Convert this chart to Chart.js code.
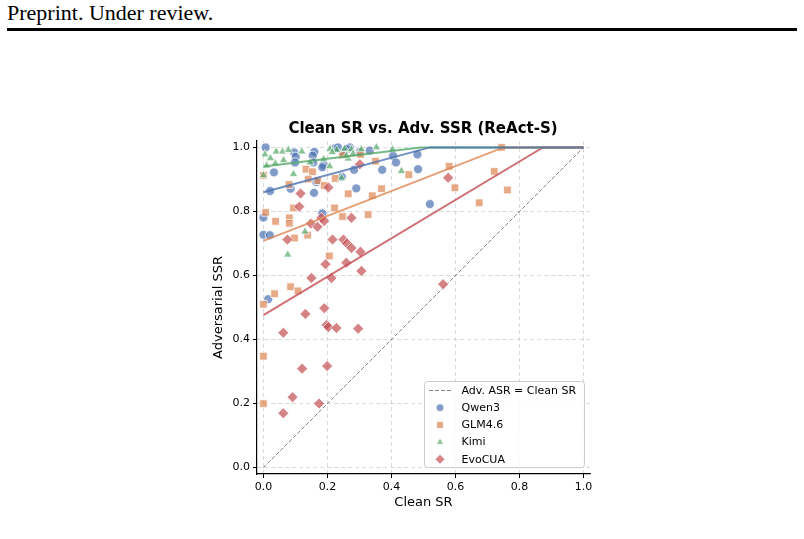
<!DOCTYPE html>
<html>
<head>
<meta charset="utf-8">
<script src="https://cdn.jsdelivr.net/npm/chart.js@4.4.0/dist/chart.umd.min.js"></script>
<style>
  html, body { margin: 0; padding: 0; background: #fff; }
  body { width: 804px; height: 539px; position: relative; overflow: hidden; }
  #header { position: absolute; left: 7px; top: 0px; font-family: "Liberation Serif", serif; font-size: 22px; line-height: 26px; color: #000; }
  #rule { position: absolute; left: 7px; top: 28px; width: 790px; height: 3px; background: #000; }
  #title { position: absolute; left: 223px; width: 400px; top: 119px; text-align: center; font-family: "DejaVu Sans", sans-serif; font-weight: bold; font-size: 15px; line-height: 18px; color: #000; }
  #myChart { position: absolute; left: 0; top: 0; }
</style>
</head>
<body>
<div id="header">Preprint. Under review.</div>
<div id="rule"></div>
<canvas id="myChart" width="804" height="539"></canvas>
<div id="title">Clean SR vs. Adv. SSR (ReAct-S)</div>
<script>
// 축 눈금
const xTickValues = [0, 0.2, 0.4, 0.6, 0.8, 1.0];
const xTickLabels = ["0.0", "0.2", "0.4", "0.6", "0.8", "1.0"];
const yTickValues = [0, 0.2, 0.4, 0.6, 0.8, 1.0];
const yTickLabels = ["0.0", "0.2", "0.4", "0.6", "0.8", "1.0"];

// 시리즈 이름
const seriesNames = ["Qwen3", "GLM4.6", "Kimi", "EvoCUA"];
const diagLabel = "Adv. ASR = Clean SR";

// Qwen3 (clean SR, adv SSR)
const qwenX = [0.007, 0.096, 0.101, 0.159, 0.154, 0.033, 0.099, 0.156, 0.188, 0.224, 0.245, 0.085, 0.165, 0.158, 0.021, 0.184,
  0.29, 0.283, 0.371, 0.332, 0.405, 0.414, 0.481, 0.483, 0.52, 0.27, 0.26, 0.233, 0.0, 0.0, 0.02, 0.184, 0.015, 0.3, 0.25];
const qwenY = [1.0, 0.984, 0.971, 0.986, 0.974, 0.922, 0.953, 0.953, 0.945, 0.997, 0.908, 0.871, 0.892, 0.858, 0.864, 0.938,
  0.872, 0.93, 0.93, 0.99, 0.974, 0.953, 0.978, 0.932, 0.823, 1.0, 0.995, 1.0, 0.781, 0.727, 0.726, 0.794, 0.526, 0.985, 0.985];

// GLM4.6
const glmX = [0.744, 0.58, 0.598, 0.721, 0.762, 0.674, 0.454, 0.133, 0.153, 0.14, 0.08, 0.17, 0.224, 0.0, 0.19, 0.265,
  0.34, 0.369, 0.35, 0.247, 0.303, 0.007, 0.038, 0.081, 0.081, 0.097, 0.138, 0.094, 0.222, 0.206, 0.247, 0.327,
  0.085, 0.108, 0.035, 0.0, 0.0, 0.0];
const glmY = [1.0, 0.941, 0.874, 0.925, 0.867, 0.827, 0.915, 0.932, 0.924, 0.901, 0.884, 0.896, 0.903, 0.913, 0.881, 0.855,
  0.849, 0.871, 0.957, 0.976, 0.978, 0.797, 0.769, 0.78, 0.763, 0.717, 0.726, 0.811, 0.811, 0.661, 0.784, 0.79,
  0.565, 0.552, 0.543, 0.51, 0.348, 0.2];

// Kimi
const kimiX = [0.005, 0.04, 0.06, 0.078, 0.12, 0.208, 0.229, 0.254, 0.275, 0.306, 0.353, 0.403, 0.037, 0.063, 0.022, 0.146,
  0.188, 0.207, 0.265, 0.259, 0.01, 0.094, 0.0, 0.244, 0.431, 0.13, 0.076, 0.28, 0.215];
const kimiY = [0.978, 0.987, 0.987, 0.992, 0.987, 0.995, 0.992, 0.996, 0.994, 0.994, 1.0, 0.994, 0.95, 0.96, 0.966, 0.953,
  0.963, 0.941, 0.965, 0.974, 0.943, 0.917, 0.913, 0.905, 0.926, 0.737, 0.665, 0.98, 0.985];

// EvoCUA
const evoX = [0.116, 0.203, 0.301, 0.112, 0.181, 0.19, 0.148, 0.169, 0.075, 0.216, 0.275, 0.25, 0.261, 0.275, 0.303, 0.259,
  0.306, 0.194, 0.15, 0.2125, 0.131, 0.19, 0.197, 0.203, 0.228, 0.296, 0.062, 0.121, 0.199, 0.091, 0.174, 0.062, 0.561, 0.577];
const evoY = [0.856, 0.875, 0.947, 0.815, 0.78, 0.77, 0.762, 0.752, 0.712, 0.712, 0.78, 0.712, 0.7, 0.686, 0.674, 0.64,
  0.614, 0.635, 0.592, 0.592, 0.48, 0.498, 0.445, 0.439, 0.436, 0.434, 0.421, 0.309, 0.317, 0.22, 0.2, 0.17, 0.573, 0.905];

// 추세선 (1.0에서 잘림)
const qwenFitX = [0, 0.52, 1];
const qwenFitY = [0.86, 1, 1];
const glmFitX = [0, 0.75, 1];
const glmFitY = [0.708, 1, 1];
const kimiFitX = [0, 0.49, 1];
const kimiFitY = [0.94, 1, 1];
const evoFitX = [0, 0.873, 1];
const evoFitY = [0.476, 1, 1];

// 대각선
const diagX = [0, 1];
const diagY = [0, 1];

const pts = (xs, ys) => xs.map((x, i) => ({ x: x, y: ys[i] }));

const colors = {
  blue: [76, 114, 176],
  orange: [221, 132, 82],
  green: [85, 168, 104],
  red: [196, 78, 82],
};
const rgba = (c, a) => `rgba(${c[0]}, ${c[1]}, ${c[2]}, ${a})`;

function scatterSet(label, xs, ys, c, style, r, order) {
  return {
    label: label,
    data: pts(xs, ys),
    pointStyle: style,
    pointRadius: r,
    pointBackgroundColor: rgba(c, 0.7),
    pointBorderColor: "rgba(255,255,255,0.9)",
    pointBorderWidth: 0.8,
    showLine: false,
    order: order,
    clip: false,
  };
}

function fitSet(xs, ys, c) {
  return {
    label: "",
    data: pts(xs, ys),
    showLine: true,
    borderColor: rgba(c, 0.8),
    borderWidth: 2,
    pointRadius: 0,
    fill: false,
    order: 0,
  };
}

// 범례 (플롯 안 오른쪽 아래)
const legendItems = [
  { text: diagLabel, line: true },
  { text: seriesNames[0], style: "circle", r: 4, c: colors.blue },
  { text: seriesNames[1], style: "rect", r: 5, c: colors.orange },
  { text: seriesNames[2], style: "triangle", r: 4.3, c: colors.green },
  { text: seriesNames[3], style: "rectRot", r: 5, c: colors.red },
];

const boxLegend = {
  id: "boxLegend",
  afterDraw(chart) {
    const ctx = chart.ctx;
    const area = chart.chartArea;
    const w = 160, h = 86;
    const x0 = area.right - 5.5 - w;
    const y0 = area.bottom - 6.5 - h;
    ctx.save();
    ctx.beginPath();
    ctx.roundRect(x0, y0, w, h, 3);
    ctx.fillStyle = "rgba(255,255,255,0.85)";
    ctx.fill();
    ctx.strokeStyle = "#cccccc";
    ctx.lineWidth = 1;
    ctx.stroke();
    ctx.font = '11px "DejaVu Sans"';
    ctx.textBaseline = "middle";
    ctx.fillStyle = "#000";
    legendItems.forEach((it, i) => {
      const cy = y0 + 9 + i * 17.2;
      const mx = x0 + 15.5;
      if (it.line) {
        ctx.save();
        ctx.strokeStyle = "rgba(110,110,110,0.85)";
        ctx.lineWidth = 1;
        ctx.setLineDash([4, 2]);
        ctx.beginPath();
        ctx.moveTo(x0 + 4.5, cy);
        ctx.lineTo(x0 + 27, cy);
        ctx.stroke();
        ctx.restore();
      } else {
        ctx.save();
        ctx.fillStyle = rgba(it.c, 0.7);
        ctx.strokeStyle = "rgba(255,255,255,0.9)";
        Chart.helpers.drawPoint(ctx, { pointStyle: it.style, radius: it.r, rotation: 0, borderWidth: 0.8 }, mx, cy);
        ctx.restore();
      }
      ctx.fillStyle = "#000";
      ctx.fillText(it.text, x0 + 37, cy + 0.5);
    });
    ctx.restore();
  },
};

Chart.defaults.font.family = "'DejaVu Sans', sans-serif";

const gridOpts = {
  color: "rgba(195,195,195,0.8)",
  lineWidth: 0.8,
  tickColor: "#000",
  tickLength: 4,
  tickWidth: 1,
  tickBorderDash: [],
};

const ctx = document.getElementById("myChart").getContext("2d");
const myChart = new Chart(ctx, {
  type: "scatter",
  data: {
    datasets: [
      fitSet(qwenFitX, qwenFitY, colors.blue),
      fitSet(glmFitX, glmFitY, colors.orange),
      fitSet(kimiFitX, kimiFitY, colors.green),
      fitSet(evoFitX, evoFitY, colors.red),
      scatterSet(seriesNames[3], evoX, evoY, colors.red, "rectRot", 5.5, 1),
      scatterSet(seriesNames[2], kimiX, kimiY, colors.green, "triangle", 4.8, 2),
      scatterSet(seriesNames[1], glmX, glmY, colors.orange, "rect", 5.4, 3),
      scatterSet(seriesNames[0], qwenX, qwenY, colors.blue, "circle", 4.5, 4),
      {
        label: diagLabel,
        data: pts(diagX, diagY),
        showLine: true,
        borderColor: "rgba(110,110,110,0.85)",
        borderWidth: 1,
        borderDash: [4, 2],
        pointRadius: 0,
        order: 10,
      },
    ],
  },
  options: {
    responsive: false,
    animation: false,
    events: [],
    layout: { padding: { left: 207, right: 214, top: 141, bottom: 25 } },
    plugins: {
      legend: { display: false },
      tooltip: { enabled: false },
      title: { display: false },
    },
    scales: {
      x: {
        type: "linear",
        min: -0.02,
        max: 1.02,
        afterBuildTicks: (s) => { s.ticks = xTickValues.map((v) => ({ value: v })); },
        afterFit: (s) => { s.height = 40; },
        ticks: {
          callback: (v, i) => xTickLabels[i],
          color: "#000",
          font: { size: 11 },
          padding: 3,
          autoSkip: false,
          maxRotation: 0,
        },
        grid: gridOpts,
        border: { display: true, color: "#000", width: 1.2, dash: [4, 3] },
        title: { display: true, text: "Clean SR", color: "#000", font: { size: 13 }, padding: { top: 4, bottom: 4 } },
      },
      y: {
        type: "linear",
        min: -0.02,
        max: 1.02,
        afterBuildTicks: (s) => { s.ticks = yTickValues.map((v) => ({ value: v })); },
        afterFit: (s) => { s.width = 50; },
        ticks: {
          callback: (v, i) => yTickLabels[i],
          color: "#000",
          font: { size: 11 },
          padding: 3,
          autoSkip: false,
        },
        grid: gridOpts,
        border: { display: true, color: "#000", width: 1.2, dash: [4, 3] },
        title: { display: true, text: "Adversarial SSR", color: "#000", font: { size: 13 }, padding: { top: 4, bottom: 4 } },
      },
    },
  },
  plugins: [boxLegend],
});
</script>
</body>
</html>
